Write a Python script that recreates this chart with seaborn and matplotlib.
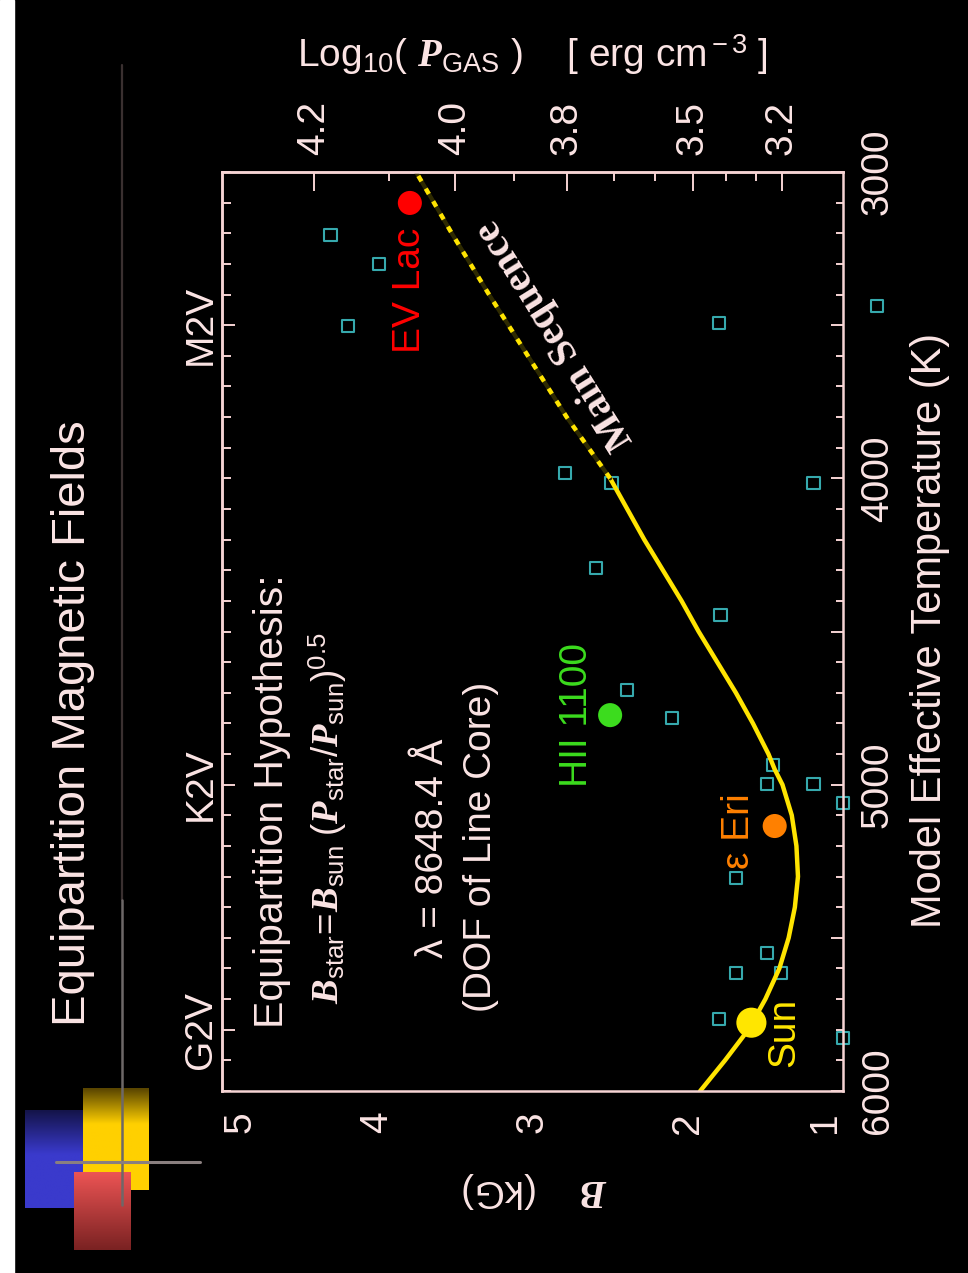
import numpy as np
import pandas as pd
import matplotlib
matplotlib.use("Agg")
import matplotlib.pyplot as plt
import seaborn as sns
from matplotlib.patches import Rectangle
from matplotlib.ticker import FixedLocator, MultipleLocator, FuncFormatter

# ---- equipartition model curve (B in kG vs. model Teff in K) ----
temp_solid = [6000, 5900, 5800, 5700, 5600, 5500, 5400, 5300, 5200, 5100,
              5000, 4950, 4900, 4800, 4700, 4600, 4500, 4400, 4300, 4200,
              4100, 4000]
b_solid = [1.92, 1.76, 1.61, 1.50, 1.41, 1.35, 1.31, 1.29, 1.30, 1.33,
           1.39, 1.44, 1.48, 1.58, 1.69, 1.81, 1.93, 2.04, 2.16, 2.28,
           2.39, 2.50]
# extrapolated main-sequence part (dashed)
temp_dashed = [4000, 3800, 3600, 3400, 3200, 3000]
b_dashed = [2.50, 2.78, 3.03, 3.28, 3.52, 3.75]

# ---- measured field strengths of individual dwarfs (open squares) ----
square_temp = [3206, 3300, 3503, 3493, 3437, 3983, 4015, 4015, 4293, 4446, 4691,
               4783, 4936, 4998, 4998, 5060, 5305, 5550, 5615, 5615, 5765, 5827]
square_b = [4.30, 3.99, 4.19, 1.80, 0.78, 2.79, 2.49, 1.19, 2.59, 1.79, 2.39,
            2.10, 1.45, 1.49, 1.19, 1.00, 1.69, 1.49, 1.69, 1.40, 1.80, 1.00]

# ---- named stars ----
star_names = ["Sun", "ε Eri", "HII 1100", "EV Lac"]
star_temp = [5777, 5135, 4773, 3101]
star_b = [1.59, 1.44, 2.50, 3.79]
star_colors = ["#FFE600", "#FF8000", "#3CDC1E", "#FF0000"]

# ---- axis ticks ----
b_ticks = [5, 4, 3, 2, 1]
temp_ticks = [3000, 4000, 5000, 6000]
logp_ticks = [4.2, 4.0, 3.8, 3.5, 3.2]
logp_minor = [4.1, 3.9, 3.7, 3.6, 3.4, 3.3]
spectral_types = ["G2V", "K2V", "M2V"]
spectral_temps = [5800, 5000, 3500]

FG = "#FBE4E4"
SPINE = "#F6D4D4"
FS = 28

sns.set_theme(style="dark", rc={
    "axes.facecolor": "black", "figure.facecolor": "black",
    "axes.edgecolor": SPINE, "text.color": FG,
    "xtick.color": SPINE, "ytick.color": SPINE,
    "axes.labelcolor": FG, "axes.grid": False,
})
plt.rcParams["font.family"] = ["Liberation Sans", "DejaVu Sans"]
plt.rcParams["mathtext.fontset"] = "custom"
plt.rcParams["mathtext.rm"] = "Liberation Sans"
plt.rcParams["mathtext.it"] = "Liberation Serif:italic"
plt.rcParams["mathtext.bf"] = "Liberation Serif:italic:bold"

W, H = 968, 1273
fig = plt.figure(figsize=(W / 100, H / 100), dpi=100, facecolor="black")

# ---- slide decoration drawn in pixel coordinates ----
deco = fig.add_axes([0, 0, 1, 1], zorder=0)
deco.axis("off")


def grad_rect(x0, x1, y0, y1, c_top, c_bot, frac=1.0):
    n = 64
    t = np.clip(np.linspace(0, 1, n) / frac, 0, 1)
    a = np.array(matplotlib.colors.to_rgb(c_top))
    b = np.array(matplotlib.colors.to_rgb(c_bot))
    arr = (a[None, :] * (1 - t[:, None]) + b[None, :] * t[:, None])[:, None, :]
    deco.imshow(arr, extent=(x0, x1, y1, y0), aspect="auto",
                interpolation="bilinear", origin="upper", zorder=1)


deco.add_patch(Rectangle((0, 0), 14, H, color="white", zorder=1))
grad_rect(25, 83, 1110, 1208, "#14144a", "#3a3acc", 0.45)
grad_rect(83, 149, 1088, 1190, "#5a4600", "#FFD000", 0.35)
grad_rect(74, 131, 1172, 1250, "#EC5454", "#7a2222", 1.0)
deco.plot([122, 122], [65, 900], color="#3a3030", lw=1.6, zorder=2)
deco.plot([122, 122], [900, 1205], color="#6e6868", lw=1.8, zorder=2)
deco.plot([56, 200], [1162, 1162], color="#8a7f7f", lw=2.2, zorder=2)
deco.set_xlim(0, W)
deco.set_ylim(H, 0)

# ---- main plot ----
L, R, T, B = 222, 843, 172, 1091
ax = fig.add_axes([L / W, (H - B) / H, (R - L) / W, (B - T) / H], zorder=2)
ax.set_facecolor("black")

sns.scatterplot(x=square_b, y=square_temp, marker="s", s=80, ax=ax, legend=False)
sq = ax.collections[-1]
sq.set_facecolor("none")
sq.set_edgecolor("#36A9AD")
sq.set_linewidth(1.5)
sq.set_clip_on(False)

df_solid = pd.DataFrame({"b": b_solid, "temp": temp_solid})
df_dash = pd.DataFrame({"b": b_dashed, "temp": temp_dashed})
sns.lineplot(data=df_solid, x="b", y="temp", sort=False, estimator=None,
             color="#FFE400", lw=3.2, ax=ax)
sns.lineplot(data=df_dash, x="b", y="temp", sort=False, estimator=None,
             color="#2e2a00", lw=3.0, ax=ax)
sns.lineplot(data=df_dash, x="b", y="temp", sort=False, estimator=None,
             color="#FFE400", lw=3.2, linestyle=(0, (1.4, 1.9)), ax=ax)

sns.scatterplot(x=star_b, y=star_temp, hue=star_names,
                palette=dict(zip(star_names, star_colors)),
                size=star_names, sizes=dict(zip(star_names, [470, 300, 300, 300])),
                linewidth=0, legend=False, ax=ax, zorder=5)

label_offsets = {"Sun": (24, -7), "ε Eri": (-26, -4), "HII 1100": (-24, 0),
                 "EV Lac": (0, -63)}
for name, bb, tt, col in zip(star_names, star_b, star_temp, star_colors):
    ax.annotate(name, xy=(bb, tt), xytext=label_offsets[name],
                textcoords="offset points", rotation=90, ha="center",
                va="center", color=col, fontsize=FS)

ax.text(2.85, 3530, "Main Sequence", rotation=122, ha="center", va="center",
        color=FG, fontsize=29, family=["Liberation Serif"], weight="bold")

ax.text(4.68, 5053, "Equipartition Hypothesis:", rotation=90, ha="center",
        va="center", color=FG, fontsize=29.5)
ax.text(4.32, 5109,
        r"$\mathbf{B}_{\rm star}\!=\!\mathbf{B}_{\rm sun}\ (\mathbf{P}_{\rm star}/\mathbf{P}_{\rm sun})^{0.5}$",
        rotation=90, ha="center", va="center", color=FG, fontsize=26.5)
ax.text(3.64, 5207, "λ = 8648.4 Å", rotation=90, ha="center", va="center",
        color=FG, fontsize=FS)
ax.text(3.33, 5203, "(DOF of Line Core)", rotation=90, ha="center",
        va="center", color=FG, fontsize=FS)

# axis ranges: B decreasing to the right, Teff decreasing upward
ax.set_xlim(5, 1)
ax.set_ylim(6000, 3000)
ax.set_xlabel("")
ax.set_ylabel("")
for s in ax.spines.values():
    s.set_color(SPINE)
    s.set_linewidth(1.8)

# bottom: field strength
ax.xaxis.set_major_locator(FixedLocator(b_ticks))
ax.xaxis.set_minor_locator(MultipleLocator(0.1))
ax.set_xticklabels([str(v) for v in b_ticks])
ax.tick_params(axis="x", which="major", direction="in", length=14.4, width=1.4,
               labelsize=FS, labelrotation=90, pad=15, labelcolor=FG)
ax.tick_params(axis="x", which="minor", direction="in", length=5.8, width=1.4)
xlabs = ax.get_xticklabels()
xlabs[0].set_ha("left")
xlabs[-1].set_ha("right")

# right: effective temperature
ax.yaxis.tick_right()
ax.yaxis.set_major_locator(FixedLocator(list(range(3000, 6001, 500))))
ax.yaxis.set_minor_locator(MultipleLocator(100))
ax.yaxis.set_major_formatter(FuncFormatter(
    lambda v, p: f"{int(v)}" if int(round(v)) in temp_ticks else ""))
ax.tick_params(axis="y", which="major", direction="in", length=8.6, width=1.4,
               labelsize=FS, labelrotation=90, pad=12, labelcolor=FG,
               left=False, right=True)
ax.tick_params(axis="y", which="minor", direction="in", length=5, width=1.4,
               left=False, right=True)
for lab in ax.get_yticklabels():
    lab.set_va("center")

# left: spectral types
sec_y = ax.secondary_yaxis("left", functions=(lambda v: v, lambda v: v))
sec_y.set_yticks(spectral_temps, labels=spectral_types)
sec_y.yaxis.set_minor_locator(MultipleLocator(100))
sec_y.tick_params(axis="y", which="major", direction="in", length=9.4, width=1.4,
                  labelsize=FS, labelrotation=90, pad=2, labelcolor=FG)
sec_y.tick_params(axis="y", which="minor", direction="in", length=6.5, width=1.4)
sec_y.spines["left"].set_color(SPINE)
sec_y.spines["left"].set_linewidth(1.8)
for lab in sec_y.get_yticklabels():
    lab.set_va("center")


# top: gas pressure, B proportional to sqrt(P_gas)
def b_to_logp(b):
    b = np.clip(np.asarray(b, dtype=float), 1e-3, None)
    return 2.0 * np.log10(b / 0.035)


def logp_to_b(lp):
    return 0.035 * 10 ** (0.5 * np.asarray(lp, dtype=float))


sec_x = ax.secondary_xaxis("top", functions=(b_to_logp, logp_to_b))
sec_x.set_xticks(logp_ticks, labels=[f"{v:.1f}" for v in logp_ticks])
sec_x.xaxis.set_minor_locator(FixedLocator(logp_minor))
sec_x.tick_params(axis="x", which="major", direction="in", length=13.7, width=1.4,
                  labelsize=FS, labelrotation=90, pad=12, labelcolor=FG)
sec_x.tick_params(axis="x", which="minor", direction="in", length=6.5, width=1.4)
sec_x.spines["top"].set_color(SPINE)
sec_x.spines["top"].set_linewidth(1.8)

# ---- titles and axis labels ----
fig.text(73 / W, 1 - 723 / H, "Equipartition Magnetic Fields", rotation=90,
         ha="center", va="center", color=FG, fontsize=34)
fig.text(532 / W, 1 - 55 / H,
         r"Log$_{10}$( $\mathbf{P}_{\rm GAS}$ )    [ erg cm$^{\rm -3}$ ]",
         ha="center", va="center", color=FG, fontsize=28)
fig.text(930 / W, 1 - 630 / H, "Model Effective Temperature (K)", rotation=90,
         ha="center", va="center", color=FG, fontsize=30)
fig.text(535 / W, 1 - 1190 / H, r"$\mathbf{B}$    (kG)", rotation=180,
         ha="center", va="center", color=FG, fontsize=FS)

fig.savefig("out.png", dpi=100, facecolor="black")
